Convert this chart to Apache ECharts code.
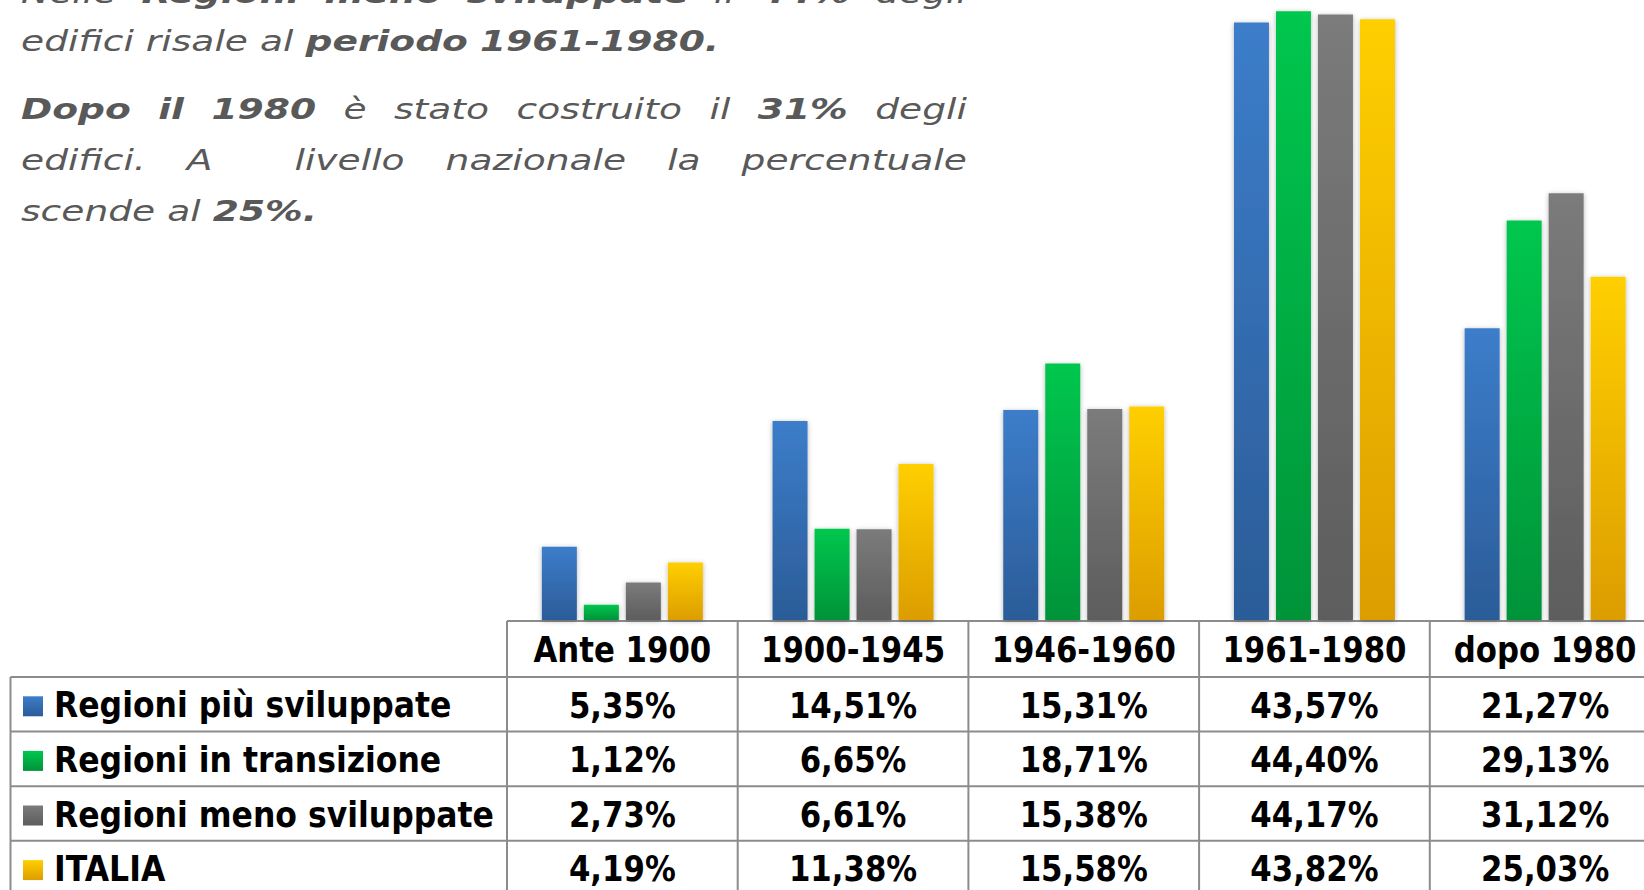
<!DOCTYPE html>
<html>
<head>
<meta charset="utf-8">
<script src="https://cdn.jsdelivr.net/npm/echarts@6/dist/echarts.min.js"></script>
<style>
html, body { margin: 0; padding: 0; background: #fff; overflow: hidden; }
/* the table runs past the right edge of the slide, so the chart is a bit wider than the window */
#main { width: 1700px; height: 890px; }
</style>
</head>
<body>
<div id="main"></div>
<script>
// periods (columns of the table / bar groups)
var categories = ['Ante 1900', '1900-1945', '1946-1960', '1961-1980', 'dopo 1980'];
var seriesNames = ['Regioni più sviluppate', 'Regioni in transizione', 'Regioni meno sviluppate', 'ITALIA'];
// % of buildings by construction period
var piuSviluppate = [5.35, 14.51, 15.31, 43.57, 21.27];
var transizione = [1.12, 6.65, 18.71, 44.40, 29.13];
var menoSviluppate = [2.73, 6.61, 15.38, 44.17, 31.12];
var italia = [4.19, 11.38, 15.58, 43.82, 25.03];

var seriesData = [piuSviluppate, transizione, menoSviluppate, italia];
// top / bottom colour of each gradient
var seriesColors = [
	['#3c7dca', '#2b5c98'],
	['#00c74e', '#009339'],
	['#7b7b7b', '#5d5d5d'],
	['#ffcf00', '#dc9d00']
];

var chart = echarts.init(document.getElementById('main'), null, {renderer: 'svg'});

function grad(c){
	return new echarts.graphic.LinearGradient(0, 0, 0, 1, [{offset: 0, color: c[0]}, {offset: 1, color: c[1]}]);
}

var series = seriesData.map(function(d, i){
	return {
		name: seriesNames[i],
		type: 'bar',
		data: d,
		barWidth: 35,
		barGap: '20%',
		silent: true,
		itemStyle: {
			color: grad(seriesColors[i]),
			shadowBlur: 5,
			shadowColor: 'rgba(0,0,0,0.3)',
			shadowOffsetY: 1
		}
	};
});

chart.setOption({
	animation: false,
	grid: {left: 507, width: 1153.5, top: 3, bottom: 270},
	xAxis: {
		type: 'category',
		data: categories,
		axisLine: {show: false},
		axisTick: {show: false},
		axisLabel: {show: false}
	},
	yAxis: {type: 'value', min: 0, max: 45, show: false, splitLine: {show: false}},
	series: series
});

//----- table under the bars -----
var els = [];
var lineCol = '#8c8c8c';
var colX = categories.map(function(c){ return chart.convertToPixel({xAxisIndex: 0}, c); });
var band = colX[1] - colX[0];
var edges = [colX[0] - band / 2];
colX.forEach(function(x){ edges.push(x + band / 2); });

var headTop = 621, headH = 56, rowH = 54.6, tableLeft = 10.5, tableRight = 1700;
var rowLines = [headTop + headH];
for (var r = 1; r <= seriesNames.length; r++) rowLines.push(headTop + headH + r * rowH);

function hline(x1, x2, y){
	els.push({type: 'line', shape: {x1: x1, y1: y, x2: x2, y2: y}, style: {stroke: lineCol, lineWidth: 2}, silent: true});
}
function vline(x, y1, y2){
	els.push({type: 'line', shape: {x1: x, y1: y1, x2: x, y2: y2}, style: {stroke: lineCol, lineWidth: 2}, silent: true});
}
hline(edges[0], tableRight, headTop);
rowLines.forEach(function(y, i){ if (i < rowLines.length - 1) hline(tableLeft, tableRight, y); });
vline(tableLeft, rowLines[0], 890);
edges.forEach(function(x){ vline(x, headTop, 890); });

var tFont = 'bold 35px "DejaVu Sans", sans-serif';
function cellText(txt, x, y, align, sx){
	els.push({type: 'text', x: x, y: y, scaleX: sx, silent: true,
		style: {text: txt, font: tFont, fill: '#000', align: align, verticalAlign: 'middle'}});
}
categories.forEach(function(c, i){ cellText(c, colX[i], headTop + headH / 2 + 1, 'center', 0.88); });

function fmt(v){ return v.toFixed(2).replace('.', ',') + '%'; }
seriesNames.forEach(function(n, s){
	var cy = rowLines[s] + rowH / 2 + 1;
	els.push({type: 'rect', shape: {x: 23, y: cy - 9, width: 20, height: 20}, silent: true,
		style: {fill: grad(seriesColors[s])}});
	cellText(n, 54, cy, 'left', 0.9);
	seriesData[s].forEach(function(v, i){ cellText(fmt(v), colX[i], cy, 'center', 0.88); });
});

//----- justified paragraph at top left -----
var PF = 28.5, pScale = 1.32, pLeft = 21, pRight = 967, pCol = '#595959';
var ctx = document.createElement('canvas').getContext('2d');
function pFont(b){ return 'italic ' + (b ? 'bold ' : 'normal ') + PF + 'px "DejaVu Sans", sans-serif'; }
function wWidth(t, b){ ctx.font = pFont(b); return ctx.measureText(t).width * pScale; }

var paraLines = [
	{y: 3, justify: true, words: [['Nelle', 0], ['Regioni', 1], ['meno', 1], ['sviluppate', 1], ['il', 0], ['44%', 1], ['degli', 0]]},
	{y: 51, justify: false, words: [['edifici', 0], ['risale', 0], ['al', 0], ['periodo', 1], ['1961-1980.', 1]]},
	{y: 119, justify: true, words: [['Dopo', 1], ['il', 1], ['1980', 1], ['è', 0], ['stato', 0], ['costruito', 0], ['il', 0], ['31%', 1], ['degli', 0]]},
	{y: 170.5, justify: true, words: [['edifici.', 0], ['A', 0], ['', 0], ['livello', 0], ['nazionale', 0], ['la', 0], ['percentuale', 0]]},
	{y: 221, justify: false, words: [['scende', 0], ['al', 0], ['25%.', 1]]}
];
paraLines.forEach(function(line){
	var widths = line.words.map(function(w){ return wWidth(w[0], w[1]); });
	var total = widths.reduce(function(a, b){ return a + b; }, 0);
	var gap = line.justify ? (pRight - pLeft - total) / (line.words.length - 1) : wWidth(' ', 0);
	var x = pLeft;
	line.words.forEach(function(w, i){
		if (w[0]) {
			els.push({type: 'text', x: x, y: line.y - 0.35 * PF, scaleX: pScale, silent: true,
				style: {text: w[0], font: pFont(w[1]), fill: pCol, align: 'left', verticalAlign: 'middle'}});
		}
		x += widths[i] + gap;
	});
});

chart.setOption({graphic: {elements: els}});
</script>
</body>
</html>
